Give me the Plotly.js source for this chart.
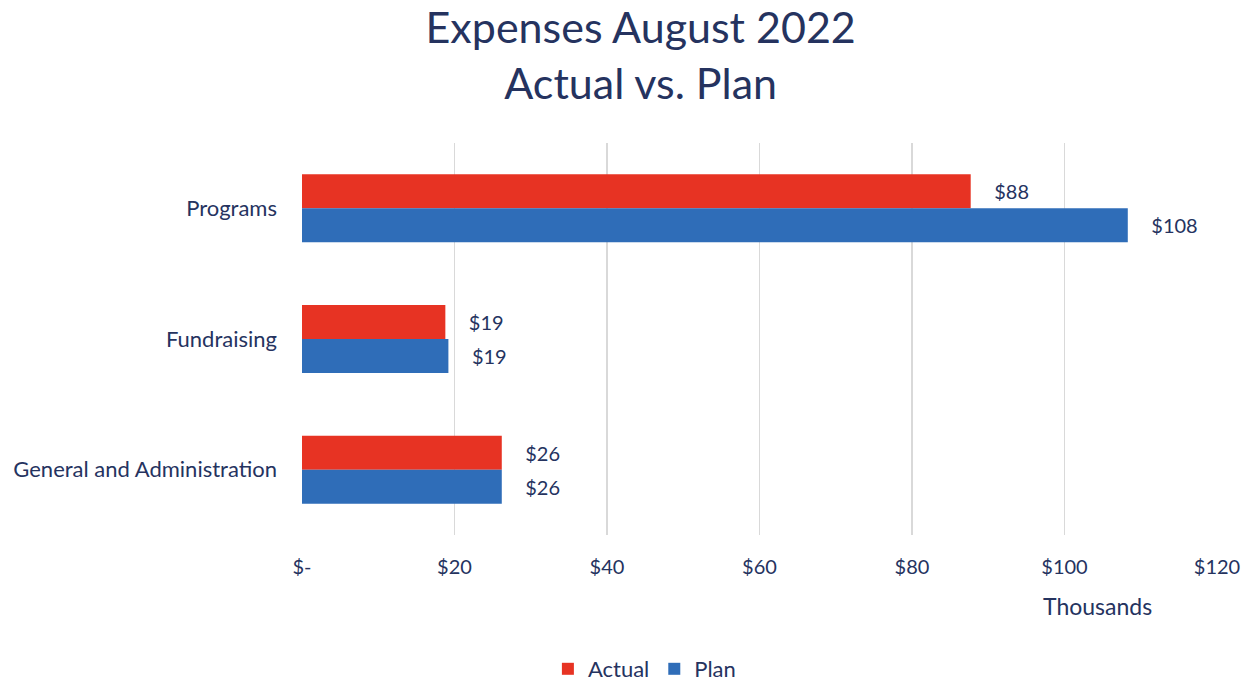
<!DOCTYPE html>
<html>
<head>
<meta charset="utf-8">
<script src="https://cdn.plot.ly/plotly-3.0.1.min.js"></script>
<style>html,body{margin:0;padding:0;background:#fff;}#chart{width:1244px;height:690px;}</style>
</head>
<body>
<div id="chart"></div>
<script>
const categories = ["Programs", "Fundraising", "General and Administration"];
const actualValues = [87.7, 18.8, 26.2];
const planValues = [108.3, 19.2, 26.2];
const tickValues = [0, 20, 40, 60, 80, 100, 120];
const tickLabels = ["$-", "$20", "$40", "$60", "$80", "$100", "$120"];

const FONT = "Lato, 'Open Sans', sans-serif";
const NAVY = "#25335f";
const pad = "\u00a0\u00a0\u00a0\u00a0";

const traces = [
  {
    type: "bar", orientation: "h", name: "Actual",
    x: actualValues, y: categories,
    marker: {color: "#e73323"},
    texttemplate: pad + "$%{x:.0f}", textposition: "outside", cliponaxis: false,
    textfont: {family: FONT, size: 20, color: NAVY},
    hoverinfo: "x+y"
  },
  {
    type: "bar", orientation: "h", name: "Plan",
    x: planValues, y: categories,
    marker: {color: "#2f6db8"},
    texttemplate: pad + "$%{x:.0f}", textposition: "outside", cliponaxis: false,
    textfont: {family: FONT, size: 20, color: NAVY},
    hoverinfo: "x+y"
  }
];

const layout = {
  width: 1244, height: 690,
  paper_bgcolor: "#fff", plot_bgcolor: "#fff",
  margin: {l: 302, r: 27, t: 143, b: 155},
  font: {family: FONT, color: NAVY, size: 20},
  title: {
    text: "Expenses August 2022<br>Actual vs. Plan",
    font: {family: FONT, size: 43, color: NAVY},
    x: 0.515, xref: "container", xanchor: "center",
    y: 0.938, yref: "container", yanchor: "middle"
  },
  barmode: "group",
  bargap: 0.48,
  bargroupgap: 0,
  xaxis: {
    range: [0, 120], tickvals: tickValues, ticktext: tickLabels,
    showgrid: true, gridcolor: "#d9d9d9", gridwidth: 1.5,
    zeroline: false, showline: false, ticks: "",
    ticklabelstandoff: 18,
    tickfont: {family: FONT, size: 20, color: NAVY},
    fixedrange: true
  },
  yaxis: {
    autorange: "reversed", showgrid: false, zeroline: false, showline: false,
    ticks: "", ticklabelstandoff: 24,
    tickfont: {family: FONT, size: 22, color: NAVY},
    fixedrange: true
  },
  showlegend: true,
  legend: {
    orientation: "h", xref: "container", yref: "container",
    x: 0.518, xanchor: "center", y: 0, yanchor: "bottom",
    font: {family: FONT, size: 22, color: NAVY},
    itemwidth: 30, traceorder: "normal"
  },
  annotations: [{
    text: "Thousands", xref: "paper", yref: "paper",
    x: 0.869, y: -0.18, xanchor: "center", yanchor: "middle",
    showarrow: false, font: {family: FONT, size: 23, color: NAVY}
  }]
};

Plotly.newPlot("chart", traces, layout, {displayModeBar: false, staticPlot: true});
</script>
</body>
</html>
